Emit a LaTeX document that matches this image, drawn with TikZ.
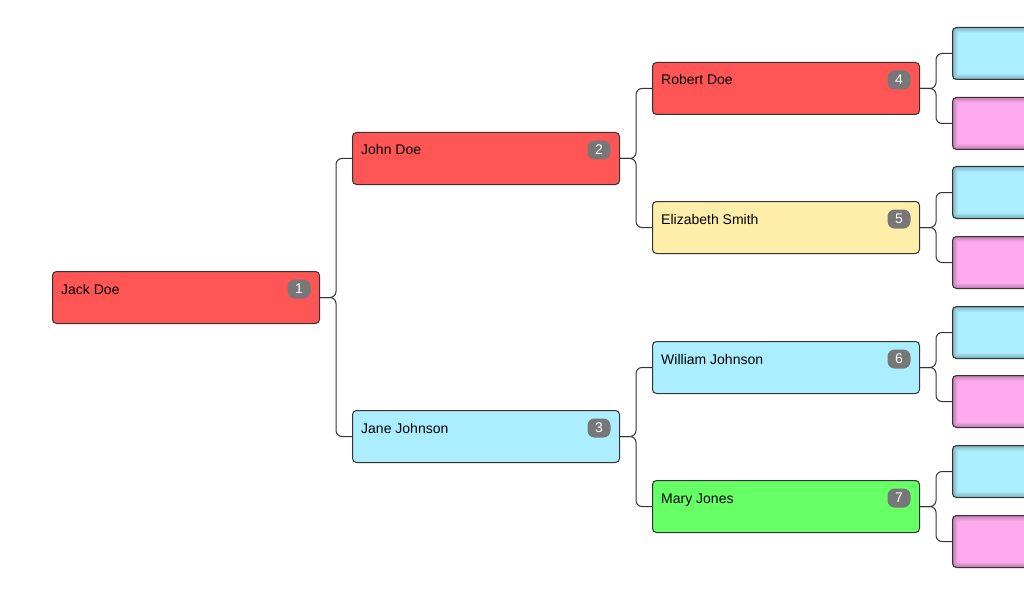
\documentclass[tikz,border=0pt]{standalone}
\usepackage{fontspec}
\setmainfont{Liberation Sans}
\definecolor{famRed}{HTML}{FF5555}
\definecolor{famBlue}{HTML}{AAEEFF}
\definecolor{famYellow}{HTML}{FFEEAA}
\definecolor{famGreen}{HTML}{66FF66}
\definecolor{famPink}{HTML}{FFAAEE}
\definecolor{famLine}{HTML}{333333}
\definecolor{famBadge}{HTML}{777777}
\begin{document}
\begin{tikzpicture}[
  x=1pt, y=-1pt,
  pbox/.style={draw=famLine, line width=1pt, rounded corners=4pt, anchor=north west, inner sep=0pt,
    minimum width=267pt, minimum height=52pt},
  emptybox/.style={pbox, path picture={
    \foreach \w in {10,7,4,2}
      \draw[line width=\w pt, black, opacity=.07, rounded corners=4pt]
        (path picture bounding box.south west) rectangle (path picture bounding box.north east);}},
  pname/.style={anchor=base west, inner sep=0pt, font=\fontsize{14}{16}\selectfont},
  badge/.style={fill=famBadge, rounded corners=7pt, text=white, inner sep=0pt,
    minimum width=23pt, minimum height=19pt, font=\fontsize{14}{16}\selectfont},
  link/.style={draw=famLine, line width=1pt, rounded corners=6pt}
]
  \clip (0,0) rectangle (1024,596);

  % generation 1
  \node[pbox, fill=famRed] (p1) at (52,271) {};
  % generation 2
  \node[pbox, fill=famRed] (p2) at (352,132) {};
  \node[pbox, fill=famBlue] (p3) at (352,410) {};
  % generation 3
  \node[pbox, fill=famRed] (p4) at (652,62) {};
  \node[pbox, fill=famYellow] (p5) at (652,201) {};
  \node[pbox, fill=famBlue] (p6) at (652,341) {};
  \node[pbox, fill=famGreen] (p7) at (652,480) {};

  % names and numbers
  \foreach \i/\who in {1/Jack Doe, 2/John Doe, 3/Jane Johnson, 4/Robert Doe,
      5/Elizabeth Smith, 6/William Johnson, 7/Mary Jones} {
    \node[pname] (n\i) at ([shift={(9,23)}]p\i.north west) {\who};
    \node[badge] (b\i) at ([shift={(-21,18)}]p\i.north east) {\i};
  }

  % generation 4 (empty, cut off at the right)
  \foreach \i/\top/\col in {8/27/famBlue, 9/97/famPink, 10/166/famBlue, 11/236/famPink,
      12/306/famBlue, 13/375/famPink, 14/445/famBlue, 15/515/famPink}
    \node[emptybox, fill=\col] (p\i) at (952,\top) {};

  % connectors
  \foreach \a/\b/\c in {1/2/3, 2/4/5, 3/6/7, 4/8/9, 5/10/11, 6/12/13, 7/14/15} {
    \draw[link] (p\a.east) -- ++(16,0) |- (p\b.west);
    \draw[link] (p\a.east) -- ++(16,0) |- (p\c.west);
  }
\end{tikzpicture}
\end{document}
